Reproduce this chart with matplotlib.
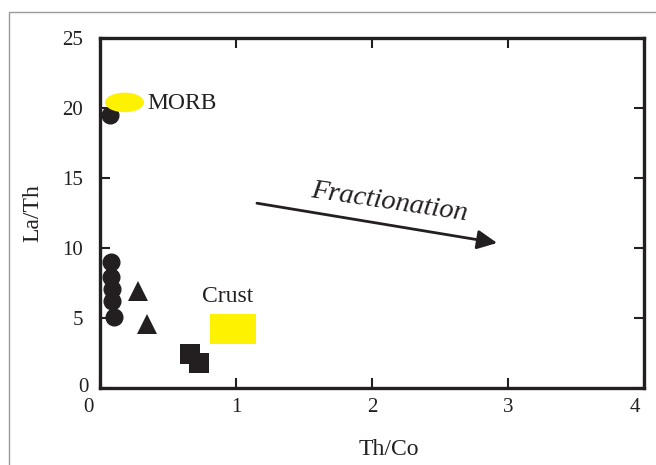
import matplotlib
matplotlib.use("Agg")
import matplotlib.pyplot as plt
from matplotlib.patches import Ellipse, Rectangle
from matplotlib.transforms import ScaledTranslation

plt.rcParams["font.family"] = ["Liberation Serif", "DejaVu Serif"]

INK = "#231f20"
YELLOW = "#fff200"

# samples
CIRCLE_X = [0.07, 0.08, 0.08, 0.085, 0.09, 0.10]
CIRCLE_Y = [19.5, 9.0, 7.9, 7.1, 6.2, 5.1]
TRIANGLE_X = [0.283, 0.345]
TRIANGLE_Y = [6.9, 4.6]
SQUARE_X = [0.665, 0.725]
SQUARE_Y = [2.4, 1.82]

# reference fields
MORB_CENTER = (0.18, 20.4)
MORB_SIZE = (0.287, 1.4)
CRUST_X = (0.81, 1.15)
CRUST_Y = (3.15, 5.3)

# fractionation trend arrow
ARROW_START = (1.154, 13.2)
ARROW_END = (2.92, 10.36)

X_TICKS = [0, 1, 2, 3, 4]
Y_TICKS = [0, 5, 10, 15, 20, 25]

fig = plt.figure(figsize=(6.56, 4.65), dpi=100)
ax = fig.add_axes([100 / 656, 1 - 388 / 465, 544 / 656, 350 / 465])

# grey outer frame, running off the right and bottom edges
fig.patches.append(Rectangle((8.5 / 656, -0.1), 1.2, 0.1 + (465 - 12) / 465,
                             transform=fig.transFigure, fill=False,
                             edgecolor="#9a9a9a", lw=1.0))

ax.plot(CIRCLE_X, CIRCLE_Y, "o", ms=12, color=INK, mec=INK, zorder=3,
        clip_on=False)
ax.plot(TRIANGLE_X, TRIANGLE_Y, "^", ms=15, color=INK, mec=INK, mew=0, zorder=3)
ax.plot(SQUARE_X, SQUARE_Y, "s", ms=13.7, color=INK, mec=INK, mew=0, zorder=3)

ax.add_patch(Ellipse(MORB_CENTER, MORB_SIZE[0], MORB_SIZE[1],
                     facecolor=YELLOW, edgecolor="none", zorder=4))
ax.add_patch(Rectangle((CRUST_X[0], CRUST_Y[0]), CRUST_X[1] - CRUST_X[0],
                       CRUST_Y[1] - CRUST_Y[0], facecolor=YELLOW,
                       edgecolor="none", zorder=2))

ax.text(0.345, MORB_CENTER[1] - 0.1, "MORB", fontsize=17, color=INK,
        ha="left", va="center")
ax.text(sum(CRUST_X) / 2 - 0.04, 6.5, "Crust", fontsize=17, color=INK,
        ha="center", va="center")

ax.annotate("", xy=ARROW_END, xytext=ARROW_START,
            arrowprops=dict(arrowstyle="-|>,head_length=0.6,head_width=0.29",
                            mutation_scale=20, lw=2, color=INK,
                            shrinkA=0, shrinkB=0))
ax.text(2.125, 13.3, "Fractionation", fontsize=20.5, style="italic", color=INK,
        rotation=-8.5, rotation_mode="anchor", ha="center", va="center")

ax.set_xlim(0, 4)
ax.set_ylim(0, 25)
ax.set_xticks(X_TICKS)
ax.set_yticks(Y_TICKS)
ax.set_xticklabels([str(t) for t in X_TICKS])
ax.set_yticklabels([str(t) for t in Y_TICKS])

for s in ax.spines.values():
    s.set_linewidth(2.4)
    s.set_color(INK)
ax.tick_params(direction="in", top=True, right=True, length=7, width=1.5,
               color=INK, labelsize=15, labelcolor=INK)
ax.tick_params(axis="x", pad=7)
ax.tick_params(axis="y", pad=12)

# nudge the corner labels the way the original sets them
xl = ax.get_xticklabels()
xl[0].set_transform(xl[0].get_transform()
                    + ScaledTranslation(-11.5 / 100, 0, fig.dpi_scale_trans))
xl[-1].set_transform(xl[-1].get_transform()
                     + ScaledTranslation(-9 / 100, 0, fig.dpi_scale_trans))
yl = ax.get_yticklabels()
yl[0].set_transform(yl[0].get_transform()
                    + ScaledTranslation(5 / 100, 3 / 100, fig.dpi_scale_trans))

ax.set_xlabel("Th/Co", fontsize=17, color=INK)
ax.set_ylabel("La/Th", fontsize=17, color=INK)
ax.xaxis.set_label_coords(0.531, -0.145)
ax.yaxis.set_label_coords(-0.105, 0.5)

fig.savefig("out.png", dpi=100)
